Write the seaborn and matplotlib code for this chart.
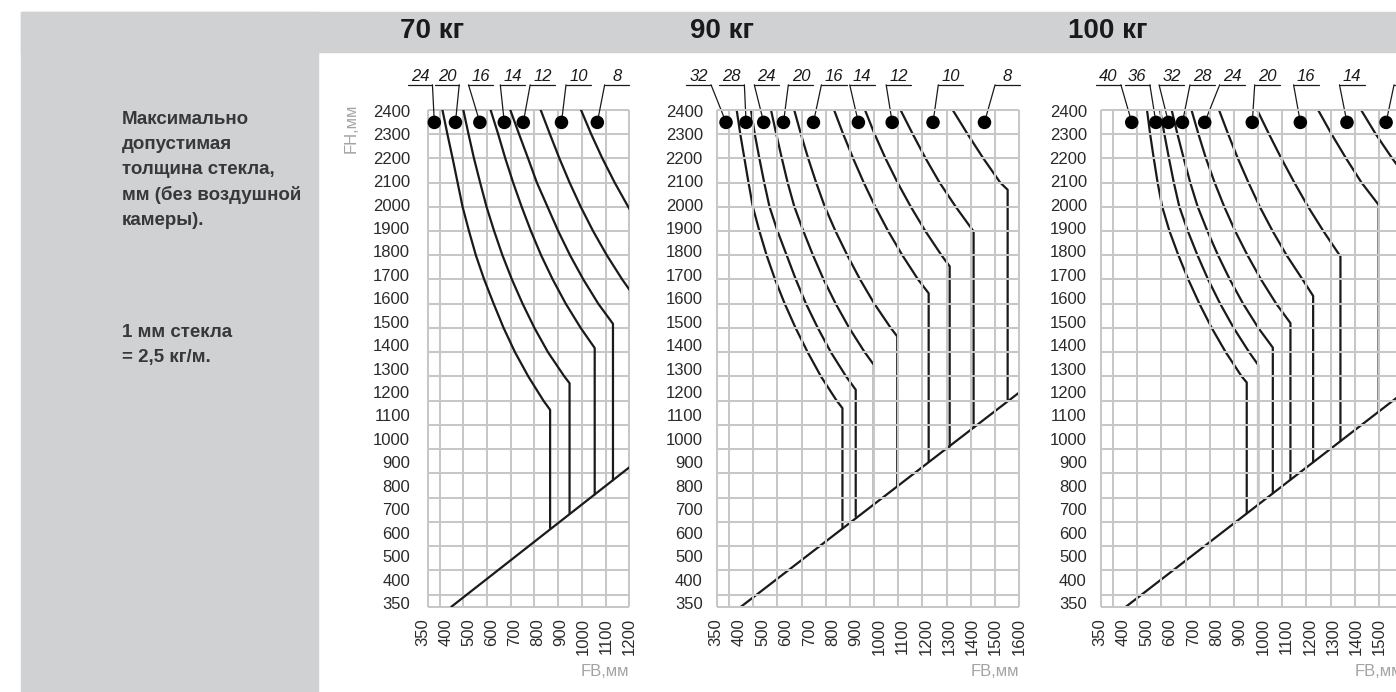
import matplotlib
matplotlib.use("Agg")
import matplotlib.pyplot as plt
from matplotlib.patches import Rectangle
import pandas as pd
import seaborn as sns

# values (FB = width, FH = height, mm)

PANEL_TITLES = ["70 кг", "90 кг", "100 кг"]
FB_MAX = [1200, 1600, 1600]

FB_TICKS_70 = [350, 400, 500, 600, 700, 800, 900, 1000, 1100, 1200]
FB_TICKS_90 = FB_TICKS_70 + [1300, 1400, 1500, 1600]
FB_TICKS_100 = FB_TICKS_90
FH_TICKS = [2400, 2300, 2200, 2100, 2000, 1900, 1800, 1700, 1600, 1500, 1400,
            1300, 1200, 1100, 1000, 900, 800, 700, 600, 500, 400, 350]

# limit curves: each one runs down from FH 2400, then drops vertically to the diagonal
CURVES_70 = [
    [(412, 2400), (433, 2300), (455, 2200), (476, 2100), (497, 2000), (524, 1900), (553, 1800),
     (588, 1700), (628, 1600), (670, 1500), (718, 1400), (774, 1300), (838, 1200), (866, 1162), (866, 674)],
    [(500, 2400), (522, 2300), (545, 2200), (571, 2100), (598, 2000), (630, 1900), (665, 1800),
     (705, 1700), (750, 1600), (800, 1500), (857, 1400), (926, 1300), (948, 1272), (948, 736)],
    [(615, 2400), (647, 2300), (677, 2200), (710, 2100), (746, 2000), (785, 1900), (828, 1800),
     (877, 1700), (932, 1600), (995, 1500), (1054, 1417), (1054, 813)],
    [(698, 2400), (735, 2300), (773, 2200), (810, 2100), (855, 2000), (900, 1900), (950, 1800),
     (1006, 1700), (1069, 1600), (1131, 1517), (1131, 872)],
    [(826, 2400), (865, 2300), (905, 2200), (948, 2100), (995, 2000), (1047, 1900), (1105, 1800),
     (1170, 1700), (1201, 1657)],
    [(996, 2400), (1039, 2300), (1086, 2200), (1138, 2100), (1195, 2000), (1201, 1990)],
]
CURVES_90 = [
    [(431, 2400), (446, 2300), (463, 2200), (480, 2100), (498, 2000), (525, 1900), (555, 1800),
     (590, 1700), (630, 1600), (675, 1500), (725, 1400), (780, 1300), (845, 1200), (869, 1169), (869, 674)],
    [(490, 2400), (506, 2300), (525, 2200), (545, 2100), (567, 2000), (600, 1900), (638, 1800),
     (676, 1700), (718, 1600), (767, 1500), (821, 1400), (884, 1300), (924, 1245), (924, 722)],
    [(573, 2400), (595, 2300), (618, 2200), (642, 2100), (670, 2000), (707, 1900), (747, 1800),
     (791, 1700), (841, 1600), (897, 1500), (961, 1400), (999, 1348), (999, 771)],
    [(669, 2400), (697, 2300), (727, 2200), (760, 2100), (796, 2000), (840, 1900), (889, 1800),
     (942, 1700), (1001, 1600), (1069, 1500), (1096, 1465), (1096, 846)],
    [(834, 2400), (872, 2300), (913, 2200), (957, 2100), (1005, 2000), (1058, 1900), (1117, 1800),
     (1182, 1700), (1226, 1643), (1226, 950)],
    [(962, 2400), (1002, 2300), (1047, 2200), (1097, 2100), (1152, 2000), (1212, 1900), (1279, 1800),
     (1313, 1754), (1313, 1010)],
    [(1109, 2400), (1160, 2300), (1213, 2200), (1271, 2100), (1338, 2000), (1412, 1898), (1412, 1090)],
    [(1325, 2400), (1387, 2300), (1452, 2200), (1522, 2100), (1553, 2070), (1553, 1200)],
]
CURVES_100 = [
    [(540, 2400), (553, 2300), (568, 2200), (584, 2100), (603, 2000), (633, 1900), (670, 1800),
     (711, 1700), (757, 1600), (808, 1500), (866, 1400), (932, 1300), (953, 1275), (953, 736)],
    [(594, 2400), (612, 2300), (631, 2200), (651, 2100), (674, 2000), (709, 1900), (749, 1800),
     (793, 1700), (843, 1600), (899, 1500), (963, 1400), (1000, 1348), (1000, 772)],
    [(642, 2400), (666, 2300), (692, 2200), (719, 2100), (750, 2000), (790, 1900), (834, 1800),
     (883, 1700), (938, 1600), (1001, 1500), (1061, 1419), (1061, 819)],
    [(724, 2400), (753, 2300), (784, 2200), (820, 2100), (860, 2000), (905, 1900), (956, 1800),
     (1012, 1700), (1075, 1600), (1134, 1520), (1134, 875)],
    [(838, 2400), (876, 2300), (916, 2200), (960, 2100), (1007, 2000), (1060, 1900), (1118, 1800),
     (1184, 1700), (1228, 1632), (1228, 947)],
    [(996, 2400), (1045, 2300), (1096, 2200), (1150, 2100), (1207, 2000), (1270, 1900), (1341, 1795),
     (1341, 1034)],
    [(1248, 2400), (1304, 2300), (1364, 2200), (1428, 2100), (1499, 2008), (1499, 1155)],
    [(1426, 2400), (1487, 2300), (1555, 2200), (1610, 2125)],
]

# lower boundary line (FB, FH) end points
DIAG_70 = ([450, 1200], [350, 925])
DIAG_90 = ([449, 1600], [350, 1233])
DIAG_100 = ([453, 1600], [350, 1232])

# glass thickness regions and the FB of their marker dots
THICK_70 = [24, 20, 16, 14, 12, 10, 8]
THICK_90 = [32, 28, 24, 20, 16, 14, 12, 10, 8]
THICK_100 = [40, 36, 32, 28, 24, 20, 16, 14, 12]
DOTS_70 = [378, 467, 570, 673, 753, 914, 1065]
DOTS_90 = [387, 470, 543, 625, 749, 935, 1075, 1244, 1457]
DOTS_100 = [477, 577, 629, 687, 779, 976, 1175, 1368, 1530]
DOT_FH = 2348

# label layout (text centre in FB units, side the leader leaves from)
TAG_X_70 = [318, 431, 574, 708, 834, 985, 1148]
TAG_X_90 = [273, 411, 556, 697, 834, 951, 1102, 1318, 1553]
TAG_X_100 = [380, 500, 642, 770, 893, 1038, 1199, 1389, 1615]
TAG_SIDE_70 = ["r", "r", "l", "l", "l", "l", "l"]
TAG_SIDE_90 = ["r", "r", "l", "l", "l", "l", "l", "l", "l"]
TAG_SIDE_100 = ["r", "r", "l", "l", "l", "l", "l", "l", "l"]

# --- styling / layout ---------------------------------------------------------
W, H = 1396, 692
GRAY_BG = "#d0d1d3"
GRID = "#c6c7c9"
INK = "#1a1a1a"
TEXT_DARK = "#383838"
AXIS_LABEL = "#a3a3a3"
PX_PER_MM = 0.2424
AX_LEFT_PX = [423.3, 716.0, 1100.0]
AX_BOTTOM_PX = 606.7
TITLE_X_PX = [400, 690, 1068]

sns.set_theme(style="white")
plt.rcParams["font.family"] = ["Liberation Sans", "DejaVu Sans"]

fig = plt.figure(figsize=(W / 100, H / 100), dpi=100)
fig.patch.set_facecolor("white")
fig.patches.append(Rectangle((21 / W, 0), (318 - 21) / W, (H - 12) / H,
                             transform=fig.transFigure, color=GRAY_BG, zorder=0))
fig.patches.append(Rectangle((21 / W, (H - 52) / H), (W - 21) / W, 40 / H,
                             transform=fig.transFigure, color=GRAY_BG, zorder=0))

panels = [
    (CURVES_70, DIAG_70, THICK_70, DOTS_70, TAG_X_70, TAG_SIDE_70, FB_TICKS_70),
    (CURVES_90, DIAG_90, THICK_90, DOTS_90, TAG_X_90, TAG_SIDE_90, FB_TICKS_90),
    (CURVES_100, DIAG_100, THICK_100, DOTS_100, TAG_X_100, TAG_SIDE_100, FB_TICKS_100),
]

for i, (curves, diag, thick, dots, tag_x, tag_side, fb_ticks) in enumerate(panels):
    xmax = FB_MAX[i]
    w_px = (xmax - 350) * PX_PER_MM
    h_px = (2400 - 350) * PX_PER_MM
    ax = fig.add_axes([AX_LEFT_PX[i] / W, (H - AX_BOTTOM_PX) / H, w_px / W, h_px / H])
    ax.set_facecolor("white")
    ax.set_xlim(350, xmax)
    ax.set_ylim(350, 2400)
    for s in ax.spines.values():
        s.set_visible(False)

    # first panel has the lines over the grid, the others under it
    grid_z, line_z = (1, 2) if i == 0 else (3, 2)
    ax.vlines(fb_ticks, 350, 2400, color=GRID, lw=1.45, zorder=grid_z, clip_on=False)
    ax.hlines(FH_TICKS, 350, xmax, color=GRID, lw=1.45, zorder=grid_z, clip_on=False)

    for pts in curves:
        df = pd.DataFrame(pts, columns=["FB", "FH"])
        sns.lineplot(data=df, x="FB", y="FH", sort=False, estimator=None,
                     color=INK, lw=1.6, ax=ax, zorder=line_z)
    sns.lineplot(x=diag[0], y=diag[1], sort=False, estimator=None,
                 color=INK, lw=1.6, ax=ax, zorder=line_z)

    sns.scatterplot(x=dots, y=[DOT_FH] * len(dots), s=95, color="black",
                    edgecolor="none", ax=ax, zorder=6, clip_on=False)

    # thickness tags with underline and leader
    for t, tx, side, dx in zip(thick, tag_x, tag_side, dots):
        ax.text(tx, 2519, str(t), ha="center", va="baseline", fontsize=12,
                style="italic", color=INK, clip_on=False)
        ax.plot([tx - 52, tx + 52], [2503, 2503], color=INK, lw=0.9, clip_on=False)
        lead = tx + 52 if side == "r" else tx - 52
        ax.plot([lead, dx], [2503, DOT_FH], color=INK, lw=0.9, clip_on=False)

    # tick labels are spaced evenly in the source, not on the grid
    ypos = [2396 - k * 96.7 for k in range(len(FH_TICKS))]
    ax.set_yticks(ypos, [str(v) for v in FH_TICKS])
    n = len(fb_ticks)
    xpos = [xmax - (n - 1 - k) * 96.5 for k in range(n)]
    ax.set_xticks(xpos, [str(v) for v in fb_ticks], rotation=90)
    ax.tick_params(axis="y", length=0, pad=9.5, labelsize=12, labelcolor="#2a2a2a")
    ax.tick_params(axis="x", length=0, pad=8, labelsize=12, labelcolor="#2a2a2a")
    ax.set_xlabel("")
    ax.set_ylabel("")
    ax.text(1.0, -(672 - AX_BOTTOM_PX) / h_px, "FB,мм", transform=ax.transAxes,
            ha="right", va="center", fontsize=12, color=AXIS_LABEL)

    fig.text(TITLE_X_PX[i] / W, 1 - 31 / H, PANEL_TITLES[i], ha="left", va="center",
             fontsize=20, fontweight="bold", color=INK)

fig.text(351 / W, 1 - 104 / H, "FH,мм", rotation=90, ha="center", va="top",
         fontsize=12, color=AXIS_LABEL)

fig.text(122 / W, 1 - 111 / H,
         "Максимально\nдопустимая\nтолщина стекла,\nмм (без воздушной\nкамеры).",
         ha="left", va="top", fontsize=13.5, fontweight="bold", color=TEXT_DARK,
         linespacing=1.6)
fig.text(122 / W, 1 - 324 / H, "1 мм стекла\n= 2,5 кг/м.",
         ha="left", va="top", fontsize=13.5, fontweight="bold", color=TEXT_DARK,
         linespacing=1.6)

fig.savefig("out.png", dpi=100)
